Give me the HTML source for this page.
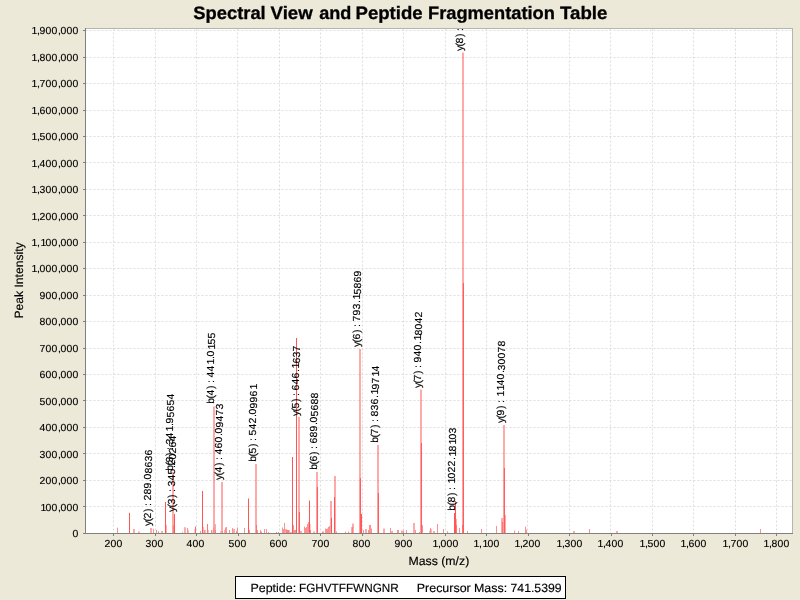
<!DOCTYPE html>
<html><head><meta charset="utf-8"><title>Spectral View and Peptide Fragmentation Table</title>
<style>
html,body{margin:0;padding:0;background:#ece9d8;}
body{width:800px;height:600px;overflow:hidden;font-family:"Liberation Sans",Arial,sans-serif;}
svg{display:block;position:absolute;left:0;top:0}
text{font-family:"Liberation Sans",Arial,sans-serif;fill:#000;text-rendering:geometricPrecision}
.t{font-size:10.2px;stroke:#000;stroke-width:0.15px}
.a{font-size:12px;stroke:#000;stroke-width:0.15px}
.g{stroke:#dddddd;stroke-width:1;stroke-dasharray:2 2;fill:none}
.p{stroke:#ff5555;stroke-width:1;fill:none}
</style></head><body>
<svg width="800" height="600" viewBox="0 0 800 600">
<defs><clipPath id="pc"><rect x="86" y="29" width="706" height="504"/></clipPath></defs>
<rect x="0" y="0" width="800" height="600" fill="#ece9d8"/>
<text y="19" font-size="18" font-weight="bold" stroke="#000" stroke-width="0.3"><tspan x="193.27" textLength="72.43" lengthAdjust="spacingAndGlyphs">Spectral</tspan> <tspan x="270.62" textLength="42.09" lengthAdjust="spacingAndGlyphs">View</tspan> <tspan x="319.27" textLength="32.17" lengthAdjust="spacingAndGlyphs">and</tspan> <tspan x="355.56" textLength="67.08" lengthAdjust="spacingAndGlyphs">Peptide</tspan> <tspan x="427.98" textLength="126.96" lengthAdjust="spacingAndGlyphs">Fragmentation</tspan> <tspan x="560.05" textLength="47.37" lengthAdjust="spacingAndGlyphs">Table</tspan></text>
<rect x="85" y="28" width="708" height="506" fill="#fff"/>
<g class="g">
<line x1="113.5" y1="28.5" x2="113.5" y2="533.5"/><line x1="155.5" y1="28.5" x2="155.5" y2="533.5"/><line x1="196.5" y1="28.5" x2="196.5" y2="533.5"/><line x1="237.5" y1="28.5" x2="237.5" y2="533.5"/><line x1="279.5" y1="28.5" x2="279.5" y2="533.5"/><line x1="320.5" y1="28.5" x2="320.5" y2="533.5"/><line x1="362.5" y1="28.5" x2="362.5" y2="533.5"/><line x1="403.5" y1="28.5" x2="403.5" y2="533.5"/><line x1="445.5" y1="28.5" x2="445.5" y2="533.5"/><line x1="486.5" y1="28.5" x2="486.5" y2="533.5"/><line x1="527.5" y1="28.5" x2="527.5" y2="533.5"/><line x1="569.5" y1="28.5" x2="569.5" y2="533.5"/><line x1="610.5" y1="28.5" x2="610.5" y2="533.5"/><line x1="652.5" y1="28.5" x2="652.5" y2="533.5"/><line x1="693.5" y1="28.5" x2="693.5" y2="533.5"/><line x1="735.5" y1="28.5" x2="735.5" y2="533.5"/><line x1="776.5" y1="28.5" x2="776.5" y2="533.5"/><line x1="85.5" y1="533.5" x2="792.5" y2="533.5"/><line x1="85.5" y1="506.5" x2="792.5" y2="506.5"/><line x1="85.5" y1="480.5" x2="792.5" y2="480.5"/><line x1="85.5" y1="453.5" x2="792.5" y2="453.5"/><line x1="85.5" y1="427.5" x2="792.5" y2="427.5"/><line x1="85.5" y1="400.5" x2="792.5" y2="400.5"/><line x1="85.5" y1="374.5" x2="792.5" y2="374.5"/><line x1="85.5" y1="348.5" x2="792.5" y2="348.5"/><line x1="85.5" y1="321.5" x2="792.5" y2="321.5"/><line x1="85.5" y1="295.5" x2="792.5" y2="295.5"/><line x1="85.5" y1="268.5" x2="792.5" y2="268.5"/><line x1="85.5" y1="242.5" x2="792.5" y2="242.5"/><line x1="85.5" y1="215.5" x2="792.5" y2="215.5"/><line x1="85.5" y1="189.5" x2="792.5" y2="189.5"/><line x1="85.5" y1="162.5" x2="792.5" y2="162.5"/><line x1="85.5" y1="136.5" x2="792.5" y2="136.5"/><line x1="85.5" y1="110.5" x2="792.5" y2="110.5"/><line x1="85.5" y1="83.5" x2="792.5" y2="83.5"/><line x1="85.5" y1="57.5" x2="792.5" y2="57.5"/><line x1="85.5" y1="30.5" x2="792.5" y2="30.5"/></g>
<g class="p">
<line x1="117.50" y1="533.50" x2="117.50" y2="527.70" stroke-opacity="0.65"/><line x1="129.50" y1="533.50" x2="129.50" y2="512.80"/><line x1="134.00" y1="533.50" x2="134.00" y2="529.00"/><line x1="139.00" y1="533.50" x2="139.00" y2="531.50"/><line x1="151.00" y1="533.50" x2="151.00" y2="528.00"/><line x1="153.60" y1="533.50" x2="153.60" y2="528.80" stroke-opacity="0.65"/><line x1="156.50" y1="533.50" x2="156.50" y2="530.00" stroke-opacity="0.65"/><line x1="158.40" y1="533.50" x2="158.40" y2="531.00" stroke-opacity="0.65"/><line x1="162.00" y1="533.50" x2="162.00" y2="531.00"/><line x1="165.50" y1="533.50" x2="165.50" y2="502.00"/><line x1="166.50" y1="533.50" x2="166.50" y2="524.80" stroke-opacity="0.45"/><line x1="173.00" y1="533.50" x2="173.00" y2="472.00"/><line x1="174.50" y1="533.50" x2="174.50" y2="514.00"/><line x1="173.30" y1="533.50" x2="173.30" y2="525.50" stroke-opacity="0.65"/><line x1="182.50" y1="533.50" x2="182.50" y2="531.70" stroke-opacity="0.5"/><line x1="185.00" y1="533.50" x2="185.00" y2="527.20"/><line x1="187.50" y1="533.50" x2="187.50" y2="528.00" stroke-opacity="0.65"/><line x1="188.50" y1="533.50" x2="188.50" y2="530.00" stroke-opacity="0.4"/><line x1="194.50" y1="533.50" x2="194.50" y2="529.00" stroke-opacity="0.3"/><line x1="195.50" y1="533.50" x2="195.50" y2="526.50" stroke-opacity="0.9"/><line x1="200.50" y1="533.50" x2="200.50" y2="531.00" stroke-opacity="0.65"/><line x1="202.50" y1="533.50" x2="202.50" y2="491.00"/><line x1="203.50" y1="533.50" x2="203.50" y2="527.00" stroke-opacity="0.4"/><line x1="204.50" y1="533.50" x2="204.50" y2="530.00" stroke-opacity="0.65"/><line x1="205.50" y1="533.50" x2="205.50" y2="530.00" stroke-opacity="0.4"/><line x1="207.50" y1="533.50" x2="207.50" y2="524.00" stroke-opacity="0.8"/><line x1="208.50" y1="533.50" x2="208.50" y2="530.00" stroke-opacity="0.4"/><line x1="211.80" y1="533.50" x2="211.80" y2="530.00"/><line x1="214.00" y1="533.50" x2="214.00" y2="406.50"/><line x1="213.90" y1="533.50" x2="213.90" y2="527.50" stroke-opacity="0.5"/><line x1="215.30" y1="533.50" x2="215.30" y2="524.00" stroke-opacity="0.65"/><line x1="215.50" y1="533.50" x2="215.50" y2="530.00" stroke-opacity="0.5"/><line x1="222.00" y1="533.50" x2="222.00" y2="482.00"/><line x1="220.50" y1="533.50" x2="220.50" y2="531.00" stroke-opacity="0.4"/><line x1="222.40" y1="533.50" x2="222.40" y2="531.00" stroke-opacity="0.5"/><line x1="224.50" y1="533.50" x2="224.50" y2="530.00" stroke-opacity="0.5"/><line x1="225.50" y1="533.50" x2="225.50" y2="527.50" stroke-opacity="0.65"/><line x1="226.50" y1="533.50" x2="226.50" y2="527.00" stroke-opacity="0.65"/><line x1="229.50" y1="533.50" x2="229.50" y2="530.00" stroke-opacity="0.65"/><line x1="232.50" y1="533.50" x2="232.50" y2="528.00" stroke-opacity="0.65"/><line x1="234.00" y1="533.50" x2="234.00" y2="529.00"/><line x1="236.50" y1="533.50" x2="236.50" y2="531.00" stroke-opacity="0.65"/><line x1="237.50" y1="533.50" x2="237.50" y2="527.50" stroke-opacity="0.65"/><line x1="244.50" y1="533.50" x2="244.50" y2="528.00" stroke-opacity="0.65"/><line x1="248.50" y1="533.50" x2="248.50" y2="498.50"/><line x1="249.50" y1="533.50" x2="249.50" y2="530.00" stroke-opacity="0.65"/><line x1="256.00" y1="533.50" x2="256.00" y2="464.00"/><line x1="256.50" y1="533.50" x2="256.50" y2="525.00" stroke-opacity="0.65"/><line x1="257.50" y1="533.50" x2="257.50" y2="530.00" stroke-opacity="0.65"/><line x1="260.50" y1="533.50" x2="260.50" y2="530.00" stroke-opacity="0.65"/><line x1="261.50" y1="533.50" x2="261.50" y2="531.50" stroke-opacity="0.65"/><line x1="264.50" y1="533.50" x2="264.50" y2="529.00" stroke-opacity="0.65"/><line x1="266.50" y1="533.50" x2="266.50" y2="529.00" stroke-opacity="0.65"/><line x1="268.50" y1="533.50" x2="268.50" y2="532.00" stroke-opacity="0.65"/><line x1="276.50" y1="533.50" x2="276.50" y2="532.00" stroke-opacity="0.65"/><line x1="278.50" y1="533.50" x2="278.50" y2="532.00" stroke-opacity="0.65"/><line x1="282.50" y1="533.50" x2="282.50" y2="527.50" stroke-opacity="0.65"/><line x1="283.50" y1="533.50" x2="283.50" y2="529.00" stroke-opacity="0.65"/><line x1="284.50" y1="533.50" x2="284.50" y2="523.00" stroke-opacity="0.65"/><line x1="286.00" y1="533.50" x2="286.00" y2="529.00"/><line x1="287.00" y1="533.50" x2="287.00" y2="530.00"/><line x1="288.00" y1="533.50" x2="288.00" y2="530.00"/><line x1="289.00" y1="533.50" x2="289.00" y2="530.00"/><line x1="291.00" y1="533.50" x2="291.00" y2="532.00"/><line x1="292.50" y1="533.50" x2="292.50" y2="457.00"/><line x1="293.50" y1="533.50" x2="293.50" y2="525.00" stroke-opacity="0.65"/><line x1="294.50" y1="533.50" x2="294.50" y2="530.00" stroke-opacity="0.65"/><line x1="295.50" y1="533.50" x2="295.50" y2="530.00" stroke-opacity="0.65"/><line x1="296.50" y1="533.50" x2="296.50" y2="338.00"/><line x1="296.50" y1="533.50" x2="296.50" y2="498.00"/><line x1="299.00" y1="533.50" x2="299.00" y2="417.00"/><line x1="299.40" y1="533.50" x2="299.40" y2="512.00"/><line x1="301.00" y1="533.50" x2="301.00" y2="531.00"/><line x1="304.50" y1="533.50" x2="304.50" y2="526.50" stroke-opacity="0.65"/><line x1="305.50" y1="533.50" x2="305.50" y2="528.00" stroke-opacity="0.65"/><line x1="306.50" y1="533.50" x2="306.50" y2="527.00" stroke-opacity="0.65"/><line x1="307.50" y1="533.50" x2="307.50" y2="524.00" stroke-opacity="0.65"/><line x1="308.50" y1="533.50" x2="308.50" y2="522.00" stroke-opacity="0.65"/><line x1="309.50" y1="533.50" x2="309.50" y2="500.50"/><line x1="310.40" y1="533.50" x2="310.40" y2="524.00" stroke-opacity="0.35"/><line x1="310.50" y1="533.50" x2="310.50" y2="530.00" stroke-opacity="0.6"/><line x1="314.00" y1="533.50" x2="314.00" y2="531.50"/><line x1="317.00" y1="533.50" x2="317.00" y2="472.00"/><line x1="317.40" y1="533.50" x2="317.40" y2="487.00"/><line x1="322.50" y1="533.50" x2="322.50" y2="531.50" stroke-opacity="0.65"/><line x1="323.50" y1="533.50" x2="323.50" y2="531.50" stroke-opacity="0.65"/><line x1="325.50" y1="533.50" x2="325.50" y2="528.50" stroke-opacity="0.65"/><line x1="326.50" y1="533.50" x2="326.50" y2="529.00" stroke-opacity="0.65"/><line x1="327.50" y1="533.50" x2="327.50" y2="528.50" stroke-opacity="0.65"/><line x1="328.50" y1="533.50" x2="328.50" y2="527.00" stroke-opacity="0.65"/><line x1="329.50" y1="533.50" x2="329.50" y2="526.00" stroke-opacity="0.65"/><line x1="331.00" y1="533.50" x2="331.00" y2="501.00"/><line x1="331.50" y1="533.50" x2="331.50" y2="518.00"/><line x1="335.00" y1="533.50" x2="335.00" y2="476.00"/><line x1="334.50" y1="533.50" x2="334.50" y2="497.00"/><line x1="336.50" y1="533.50" x2="336.50" y2="531.50" stroke-opacity="0.65"/><line x1="345.50" y1="533.50" x2="345.50" y2="531.50" stroke-opacity="0.65"/><line x1="348.50" y1="533.50" x2="348.50" y2="531.50" stroke-opacity="0.65"/><line x1="352.00" y1="533.50" x2="352.00" y2="527.00"/><line x1="353.00" y1="533.50" x2="353.00" y2="523.50"/><line x1="360.00" y1="533.50" x2="360.00" y2="349.00"/><line x1="360.40" y1="533.50" x2="360.40" y2="478.00"/><line x1="361.50" y1="533.50" x2="361.50" y2="514.00"/><line x1="363.50" y1="533.50" x2="363.50" y2="530.00" stroke-opacity="0.65"/><line x1="366.00" y1="533.50" x2="366.00" y2="529.00"/><line x1="368.50" y1="533.50" x2="368.50" y2="530.00" stroke-opacity="0.65"/><line x1="369.50" y1="533.50" x2="369.50" y2="525.00" stroke-opacity="0.65"/><line x1="370.50" y1="533.50" x2="370.50" y2="525.00" stroke-opacity="0.65"/><line x1="371.50" y1="533.50" x2="371.50" y2="528.50" stroke-opacity="0.65"/><line x1="378.00" y1="533.50" x2="378.00" y2="445.00"/><line x1="378.40" y1="533.50" x2="378.40" y2="493.00"/><line x1="384.00" y1="533.50" x2="384.00" y2="528.50"/><line x1="390.50" y1="533.50" x2="390.50" y2="528.00" stroke-opacity="0.65"/><line x1="392.00" y1="533.50" x2="392.00" y2="531.00"/><line x1="397.50" y1="533.50" x2="397.50" y2="530.00" stroke-opacity="0.65"/><line x1="398.50" y1="533.50" x2="398.50" y2="530.00" stroke-opacity="0.65"/><line x1="402.00" y1="533.50" x2="402.00" y2="530.50"/><line x1="403.50" y1="533.50" x2="403.50" y2="530.50" stroke-opacity="0.65"/><line x1="406.50" y1="533.50" x2="406.50" y2="530.00" stroke-opacity="0.65"/><line x1="414.00" y1="533.50" x2="414.00" y2="523.00"/><line x1="415.50" y1="533.50" x2="415.50" y2="530.00" stroke-opacity="0.65"/><line x1="419.50" y1="533.50" x2="419.50" y2="532.00" stroke-opacity="0.65"/><line x1="421.00" y1="533.50" x2="421.00" y2="389.50"/><line x1="421.40" y1="533.50" x2="421.40" y2="443.00"/><line x1="422.50" y1="533.50" x2="422.50" y2="525.00" stroke-opacity="0.65"/><line x1="429.50" y1="533.50" x2="429.50" y2="530.50" stroke-opacity="0.4"/><line x1="430.50" y1="533.50" x2="430.50" y2="528.00" stroke-opacity="0.65"/><line x1="431.50" y1="533.50" x2="431.50" y2="529.00" stroke-opacity="0.4"/><line x1="434.00" y1="533.50" x2="434.00" y2="531.00"/><line x1="437.50" y1="533.50" x2="437.50" y2="524.00" stroke-opacity="0.65"/><line x1="443.50" y1="533.50" x2="443.50" y2="529.00" stroke-opacity="0.65"/><line x1="447.60" y1="533.50" x2="447.60" y2="531.00" stroke-opacity="0.65"/><line x1="454.50" y1="533.50" x2="454.50" y2="513.00"/><line x1="455.50" y1="533.50" x2="455.50" y2="501.00"/><line x1="456.50" y1="533.50" x2="456.50" y2="519.00" stroke-opacity="0.5"/><line x1="456.50" y1="533.50" x2="456.50" y2="525.00" stroke-opacity="0.6"/><line x1="459.50" y1="533.50" x2="459.50" y2="528.00" stroke-opacity="0.65"/><line x1="463.00" y1="533.50" x2="463.00" y2="52.50"/><line x1="463.40" y1="533.50" x2="463.40" y2="283.00"/><line x1="462.50" y1="533.50" x2="462.50" y2="525.00" stroke-opacity="0.65"/><line x1="467.50" y1="533.50" x2="467.50" y2="531.00" stroke-opacity="0.65"/><line x1="481.50" y1="533.50" x2="481.50" y2="529.00" stroke-opacity="0.65"/><line x1="496.50" y1="533.50" x2="496.50" y2="526.00" stroke-opacity="0.65"/><line x1="502.00" y1="533.50" x2="502.00" y2="518.00"/><line x1="502.50" y1="533.50" x2="502.50" y2="522.00" stroke-opacity="0.65"/><line x1="504.00" y1="533.50" x2="504.00" y2="425.00"/><line x1="504.40" y1="533.50" x2="504.40" y2="468.00"/><line x1="505.00" y1="533.50" x2="505.00" y2="515.00"/><line x1="514.50" y1="533.50" x2="514.50" y2="530.50" stroke-opacity="0.65"/><line x1="518.50" y1="533.50" x2="518.50" y2="531.00" stroke-opacity="0.65"/><line x1="525.50" y1="533.50" x2="525.50" y2="526.50" stroke-opacity="0.65"/><line x1="526.50" y1="533.50" x2="526.50" y2="529.50" stroke-opacity="0.65"/><line x1="574.00" y1="533.50" x2="574.00" y2="531.00"/><line x1="589.50" y1="533.50" x2="589.50" y2="529.00" stroke-opacity="0.65"/><line x1="617.00" y1="533.50" x2="617.00" y2="531.00"/><line x1="760.50" y1="533.50" x2="760.50" y2="529.00" stroke-opacity="0.65"/></g>
<g fill="none" stroke-width="1" shape-rendering="crispEdges"><path d="M85.5 28.5H792.5V533.5" stroke="#b4b4b0"/><path d="M85.5 28V533.5H793" stroke="#808080"/><line x1="113.5" y1="533.5" x2="113.5" y2="536" stroke="#808080"/><line x1="155.5" y1="533.5" x2="155.5" y2="536" stroke="#808080"/><line x1="196.5" y1="533.5" x2="196.5" y2="536" stroke="#808080"/><line x1="238.5" y1="533.5" x2="238.5" y2="536" stroke="#808080"/><line x1="279.5" y1="533.5" x2="279.5" y2="536" stroke="#808080"/><line x1="320.5" y1="533.5" x2="320.5" y2="536" stroke="#808080"/><line x1="362.5" y1="533.5" x2="362.5" y2="536" stroke="#808080"/><line x1="403.5" y1="533.5" x2="403.5" y2="536" stroke="#808080"/><line x1="445.5" y1="533.5" x2="445.5" y2="536" stroke="#808080"/><line x1="486.5" y1="533.5" x2="486.5" y2="536" stroke="#808080"/><line x1="528.5" y1="533.5" x2="528.5" y2="536" stroke="#808080"/><line x1="569.5" y1="533.5" x2="569.5" y2="536" stroke="#808080"/><line x1="611.5" y1="533.5" x2="611.5" y2="536" stroke="#808080"/><line x1="652.5" y1="533.5" x2="652.5" y2="536" stroke="#808080"/><line x1="693.5" y1="533.5" x2="693.5" y2="536" stroke="#808080"/><line x1="735.5" y1="533.5" x2="735.5" y2="536" stroke="#808080"/><line x1="776.5" y1="533.5" x2="776.5" y2="536" stroke="#808080"/><line x1="83" y1="533.5" x2="85.5" y2="533.5" stroke="#808080"/><line x1="83" y1="506.5" x2="85.5" y2="506.5" stroke="#808080"/><line x1="83" y1="480.5" x2="85.5" y2="480.5" stroke="#808080"/><line x1="83" y1="453.5" x2="85.5" y2="453.5" stroke="#808080"/><line x1="83" y1="427.5" x2="85.5" y2="427.5" stroke="#808080"/><line x1="83" y1="400.5" x2="85.5" y2="400.5" stroke="#808080"/><line x1="83" y1="374.5" x2="85.5" y2="374.5" stroke="#808080"/><line x1="83" y1="348.5" x2="85.5" y2="348.5" stroke="#808080"/><line x1="83" y1="321.5" x2="85.5" y2="321.5" stroke="#808080"/><line x1="83" y1="295.5" x2="85.5" y2="295.5" stroke="#808080"/><line x1="83" y1="268.5" x2="85.5" y2="268.5" stroke="#808080"/><line x1="83" y1="242.5" x2="85.5" y2="242.5" stroke="#808080"/><line x1="83" y1="215.5" x2="85.5" y2="215.5" stroke="#808080"/><line x1="83" y1="189.5" x2="85.5" y2="189.5" stroke="#808080"/><line x1="83" y1="162.5" x2="85.5" y2="162.5" stroke="#808080"/><line x1="83" y1="136.5" x2="85.5" y2="136.5" stroke="#808080"/><line x1="83" y1="110.5" x2="85.5" y2="110.5" stroke="#808080"/><line x1="83" y1="83.5" x2="85.5" y2="83.5" stroke="#808080"/><line x1="83" y1="57.5" x2="85.5" y2="57.5" stroke="#808080"/><line x1="83" y1="30.5" x2="85.5" y2="30.5" stroke="#808080"/></g>
<g>
<text class="t" transform="scale(1.025,1)" x="102.00 107.85 113.71" y="547.0">200</text><text class="t" transform="scale(1.025,1)" x="142.00 147.85 153.71" y="547.0">300</text><text class="t" transform="scale(1.025,1)" x="182.00 187.85 193.71" y="547.0">400</text><text class="t" transform="scale(1.025,1)" x="222.98 228.83 234.68" y="547.0">500</text><text class="t" transform="scale(1.025,1)" x="262.98 268.83 274.68" y="547.0">600</text><text class="t" transform="scale(1.025,1)" x="303.95 309.80 315.66" y="547.0">700</text><text class="t" transform="scale(1.025,1)" x="343.95 349.80 355.66" y="547.0">800</text><text class="t" transform="scale(1.025,1)" x="384.93 390.78 396.63" y="547.0">900</text><text class="t" transform="scale(1.025,1)" x="421.90 427.37 429.80 435.66 441.51" y="547.0">1,000</text><text class="t" transform="scale(1.025,1)" x="461.90 467.37 470.68 475.66 481.51" y="547.0">1,100</text><text class="t" transform="scale(1.025,1)" x="501.90 507.37 509.80 515.66 521.51" y="547.0">1,200</text><text class="t" transform="scale(1.025,1)" x="542.88 548.34 550.78 556.63 562.49" y="547.0">1,300</text><text class="t" transform="scale(1.025,1)" x="582.88 588.34 590.78 596.63 602.49" y="547.0">1,400</text><text class="t" transform="scale(1.025,1)" x="623.85 629.32 631.76 637.61 643.46" y="547.0">1,500</text><text class="t" transform="scale(1.025,1)" x="663.85 669.32 671.76 677.61 683.46" y="547.0">1,600</text><text class="t" transform="scale(1.025,1)" x="704.83 710.29 712.73 718.59 724.44" y="547.0">1,700</text><text class="t" transform="scale(1.025,1)" x="744.83 750.29 752.73 758.59 764.44" y="547.0">1,800</text><text class="t" transform="scale(1.025,1)" x="70.78" y="537.0">0</text><text class="t" transform="scale(1.025,1)" x="39.46 44.44 50.29 56.63 59.07 64.93 70.78" y="511.0">100,000</text><text class="t" transform="scale(1.025,1)" x="38.59 44.44 50.29 56.63 59.07 64.93 70.78" y="484.0">200,000</text><text class="t" transform="scale(1.025,1)" x="38.59 44.44 50.29 56.63 59.07 64.93 70.78" y="458.0">300,000</text><text class="t" transform="scale(1.025,1)" x="38.59 44.44 50.29 56.63 59.07 64.93 70.78" y="431.0">400,000</text><text class="t" transform="scale(1.025,1)" x="38.59 44.44 50.29 56.63 59.07 64.93 70.78" y="405.0">500,000</text><text class="t" transform="scale(1.025,1)" x="38.59 44.44 50.29 56.63 59.07 64.93 70.78" y="378.0">600,000</text><text class="t" transform="scale(1.025,1)" x="38.59 44.44 50.29 56.63 59.07 64.93 70.78" y="352.0">700,000</text><text class="t" transform="scale(1.025,1)" x="38.59 44.44 50.29 56.63 59.07 64.93 70.78" y="325.0">800,000</text><text class="t" transform="scale(1.025,1)" x="38.59 44.44 50.29 56.63 59.07 64.93 70.78" y="299.0">900,000</text><text class="t" transform="scale(1.025,1)" x="30.68 36.15 38.59 44.44 50.29 56.63 59.07 64.93 70.78" y="272.0">1,000,000</text><text class="t" transform="scale(1.025,1)" x="30.68 36.15 39.46 44.44 50.29 56.63 59.07 64.93 70.78" y="246.0">1,100,000</text><text class="t" transform="scale(1.025,1)" x="30.68 36.15 38.59 44.44 50.29 56.63 59.07 64.93 70.78" y="220.0">1,200,000</text><text class="t" transform="scale(1.025,1)" x="30.68 36.15 38.59 44.44 50.29 56.63 59.07 64.93 70.78" y="193.0">1,300,000</text><text class="t" transform="scale(1.025,1)" x="30.68 36.15 38.59 44.44 50.29 56.63 59.07 64.93 70.78" y="167.0">1,400,000</text><text class="t" transform="scale(1.025,1)" x="30.68 36.15 38.59 44.44 50.29 56.63 59.07 64.93 70.78" y="140.0">1,500,000</text><text class="t" transform="scale(1.025,1)" x="30.68 36.15 38.59 44.44 50.29 56.63 59.07 64.93 70.78" y="114.0">1,600,000</text><text class="t" transform="scale(1.025,1)" x="30.68 36.15 38.59 44.44 50.29 56.63 59.07 64.93 70.78" y="87.0">1,700,000</text><text class="t" transform="scale(1.025,1)" x="30.68 36.15 38.59 44.44 50.29 56.63 59.07 64.93 70.78" y="61.0">1,800,000</text><text class="t" transform="scale(1.025,1)" x="30.68 36.15 38.59 44.44 50.29 56.63 59.07 64.93 70.78" y="34.0">1,900,000</text></g>
<text class="a" x="408.49" y="565" textLength="60.77" lengthAdjust="spacingAndGlyphs">Mass (m/z)</text>
<text class="a" transform="translate(22.8,318.6) rotate(-90)" textLength="76.2" lengthAdjust="spacingAndGlyphs">Peak Intensity</text>
<g clip-path="url(#pc)">
<text class="t" transform="translate(151.00,526.00) rotate(-90) scale(1.025,1)" x="0.00 4.44 7.37 13.76 16.59 19.56 22.44 24.93 30.78 36.63 42.98 45.41 51.27 57.12 62.98 68.83" y="0">y(2) : 289.0<tspan dy="1">8636</tspan></text><text class="t" transform="translate(173.00,471.00) rotate(-90) scale(1.025,1)" x="0.29 5.41 8.34 14.73 17.56 20.54 23.41 25.90 31.76 38.49 43.95 46.39 52.24 58.10 63.95 69.80" y="0">b(3) : 341.9<tspan dy="1">5654</tspan></text><text class="t" transform="translate(175.00,512.00) rotate(-90) scale(1.025,1)" x="0.00 4.44 7.37 13.76 16.59 19.56 22.44 24.93 30.78 36.63 42.98 45.41 51.27 57.12 62.98 68.83" y="0">y(3) : 345.2<tspan dy="1">0264</tspan></text><text class="t" transform="translate(214.00,404.00) rotate(-90) scale(1.025,1)" x="0.29 5.41 8.34 14.73 17.56 20.54 23.41 25.90 31.76 38.49 43.95 46.39 53.12 58.10 63.95" y="0">b(4) : 441.0<tspan dy="1">155</tspan></text><text class="t" transform="translate(222.00,480.00) rotate(-90) scale(1.025,1)" x="0.00 4.44 7.37 13.76 16.59 19.56 22.44 24.93 30.78 36.63 42.98 45.41 51.27 57.12 62.98 68.83" y="0">y(4) : 460.0<tspan dy="1">9473</tspan></text><text class="t" transform="translate(256.00,462.00) rotate(-90) scale(1.025,1)" x="0.29 5.41 8.34 14.73 17.56 20.54 23.41 25.90 31.76 37.61 43.95 46.39 52.24 58.10 63.95 70.68" y="0">b(5) : 542.0<tspan dy="1">9961</tspan></text><text class="t" transform="translate(299.00,416.00) rotate(-90) scale(1.025,1)" x="0.00 4.44 7.37 13.76 16.59 19.56 22.44 24.93 30.78 36.63 42.98 46.29 51.27 57.12 62.98" y="0">y(5) : 646.1<tspan dy="1">637</tspan></text><text class="t" transform="translate(317.00,470.00) rotate(-90) scale(1.025,1)" x="0.29 5.41 8.34 14.73 17.56 20.54 23.41 25.90 31.76 37.61 43.95 46.39 52.24 58.10 63.95 69.80" y="0">b(6) : 689.0<tspan dy="1">5688</tspan></text><text class="t" transform="translate(360.00,347.00) rotate(-90) scale(1.025,1)" x="0.00 4.44 7.37 13.76 16.59 19.56 22.44 24.93 30.78 36.63 42.98 46.29 51.27 57.12 62.98 68.83" y="0">y(6) : 793.1<tspan dy="1">5869</tspan></text><text class="t" transform="translate(378.00,443.00) rotate(-90) scale(1.025,1)" x="0.29 5.41 8.34 14.73 17.56 20.54 23.41 25.90 31.76 37.61 43.95 47.27 52.24 58.10 64.83 69.80" y="0">b(7) : 836.1<tspan dy="1">9714</tspan></text><text class="t" transform="translate(421.00,388.00) rotate(-90) scale(1.025,1)" x="0.00 4.44 7.37 13.76 16.59 19.56 22.44 24.93 30.78 36.63 42.98 46.29 51.27 57.12 62.98 68.83" y="0">y(7) : 940.1<tspan dy="1">8042</tspan></text><text class="t" transform="translate(455.00,511.00) rotate(-90) scale(1.025,1)" x="0.29 5.41 8.34 14.73 17.56 20.54 23.41 26.78 31.76 37.61 43.46 49.80 53.12 58.10 64.83 69.80 75.66" y="0">b(8) : 1022.<tspan dy="1">18103</tspan></text><text class="t" transform="translate(463.00,51.00) rotate(-90) scale(1.025,1)" x="0.00 4.44 7.37 13.76 16.59 19.56" y="0">y(8) :</text><text class="t" transform="translate(504.00,423.00) rotate(-90) scale(1.025,1)" x="0.00 4.44 7.37 13.76 16.59 19.56 22.44 25.80 31.66 36.63 42.49 48.83 51.27 57.12 62.98 68.83 74.68" y="0">y(9) : 1140.<tspan dy="1">30078</tspan></text></g>
<rect x="235.5" y="576.5" width="330" height="22" fill="#fff" stroke="#000" stroke-width="1" shape-rendering="crispEdges"/>
<text class="a" y="592"><tspan x="250.48" textLength="45.66" lengthAdjust="spacingAndGlyphs">Peptide:</tspan> <tspan x="299.04" textLength="99.71" lengthAdjust="spacingAndGlyphs">FGHVTFFWNGNR</tspan></text>
<text class="a" y="592"><tspan x="416.78" textLength="53.93" lengthAdjust="spacingAndGlyphs">Precursor</tspan> <tspan x="473.98" textLength="33.15" lengthAdjust="spacingAndGlyphs">Mass:</tspan> <tspan x="510.57" textLength="51.01" lengthAdjust="spacingAndGlyphs">741.5399</tspan></text>
</svg>
</body></html>
